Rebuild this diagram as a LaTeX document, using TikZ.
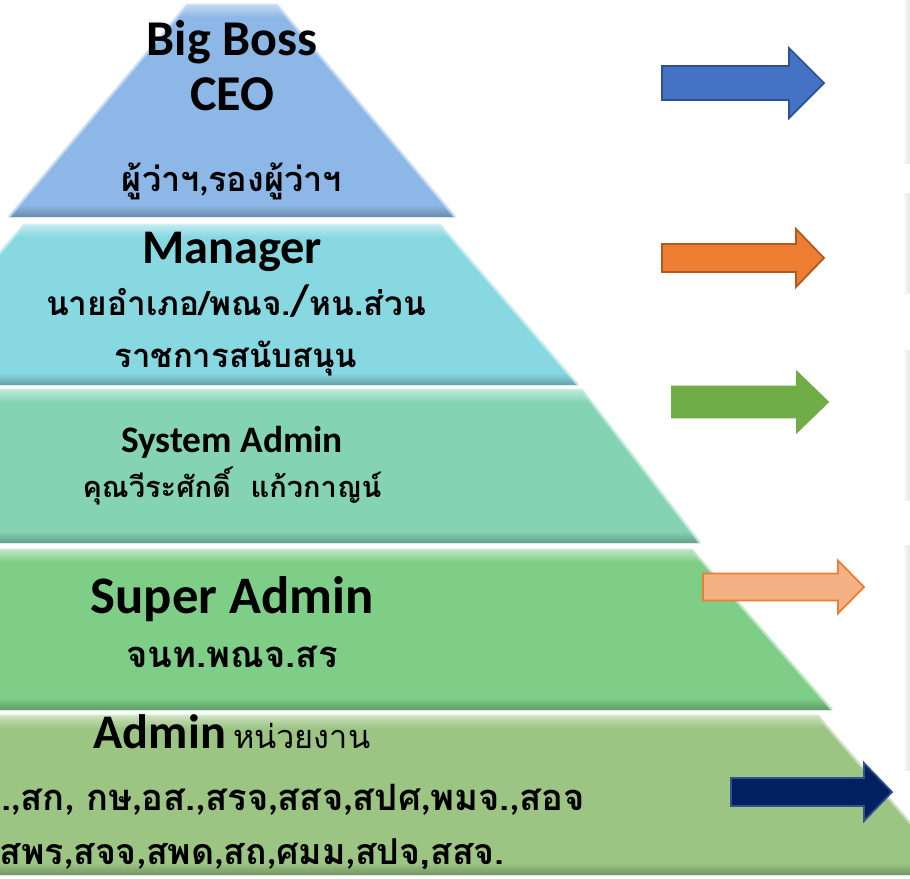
\documentclass[tikz,border=0pt]{standalone}
\usepackage{fontspec}
\setmainfont{Carlito}
\newfontfamily\thaifont[Script=Thai]{Loma}
\usetikzlibrary{calc}

\definecolor{tierA}{HTML}{8DB7E6}
\definecolor{tierB}{HTML}{88D8E2}
\definecolor{tierC}{HTML}{84D4B4}
\definecolor{tierD}{HTML}{7ECE88}
\definecolor{tierE}{HTML}{9CC584}

\newcommand{\boldcomma}{{\normalfont\bfseries ,}}
\newcommand{\fsz}[1]{\fontsize{#1}{#1}\selectfont}

\tikzset{
  title/.style={anchor=base, font=\bfseries\fsz{#1}},
  thai/.style={anchor=base, font=\thaifont\bfseries\fsz{#1}},
  blockarrow/.style={line width=1pt, line join=miter}
}

\begin{document}
\begin{tikzpicture}[x=0.02cm, y=-0.02cm]
    % page
    \fill[white] (0,0) rectangle (910,879);
    \useasboundingbox (0,0) rectangle (910,879);

    % faint edge of the next slide
    \foreach \ya/\yb in {0/163, 193/293, 350/500, 545/770}
      \shade[left color=white, right color=black!10] (902,\ya) rectangle (910,\yb);

    % pyramid tiers: top y / top right x / bottom y / bottom right x / colour
    \foreach \yt/\xt/\yb/\xb/\c in {5/277/217/455/tierA, 225/440/385/578/tierB,
        390/582/543/700/tierC, 550/692/710/832/tierD, 716/818/875/955/tierE} {
      \fill[\c] ({464-\xt},\yt) -- (\xt,\yt) -- (\xb,\yb) -- ({464-\xb},\yb) -- cycle;
      % bevel, light at the top and dark at the bottom
      \shade[top color=\c!55!white, bottom color=\c]
        ({464-\xt},\yt) -- (\xt,\yt)
        -- ({\xt+(\xb-\xt)*12/(\yb-\yt)},{\yt+12})
        -- ({464-\xt-(\xb-\xt)*12/(\yb-\yt)},{\yt+12}) -- cycle;
      \shade[top color=\c, bottom color=\c!75!black]
        ({464-\xb+(\xb-\xt)*12/(\yb-\yt)},{\yb-12})
        -- ({\xb-(\xb-\xt)*12/(\yb-\yt)},{\yb-12})
        -- (\xb,\yb) -- ({464-\xb},\yb) -- cycle;
      \draw[\c!50!white, line width=1.5pt, opacity=.8]
        ({464-\xb},\yb) -- ({464-\xt},\yt) -- (\xt,\yt) -- (\xb,\yb);
    }

    % Big Boss
    \node[title=28.5] (boss) at (232,55) {Big Boss};
    \node[title=28.5] (ceo) at (232,110) {CEO};
    \node[thai=19.5] (govr) at (232,191) {ผู้ว่าฯ\boldcomma รองผู้ว่าฯ};

    % Manager
    \node[title=27.5] (mgr) at (232,263) {Manager};
    \node[thai=19] (mgrsub) at (236,315)
      {นายอำเภอ/พณจ.{\normalfont\bfseries\fsz{25}/}หน.ส่วน};
    \node[thai=18.7] (mgrsup) at (236,367) {ราชการสนับสนุน};

    % System Admin
    \node[title=21.3] (sysadm) at (232,452) {System Admin};
    \node[thai=16.5] (sysname) at (232,497) {คุณวีระศักดิ์\ \ แก้วกาญน์};

    % Super Admin
    \node[title=30] (supadm) at (232,613) {Super Admin};
    \node[thai=20.7] (supname) at (232,667) {จนท.พณจ.สร};

    % Admin
    \node[anchor=base, inner sep=0pt] (adm) at (232,748)
      {{\bfseries\fsz{27.5}Admin}\hspace{4pt}{\thaifont\fsz{18.5}หน่วยงาน}};
    \node[thai=20.7, anchor=base east, inner sep=0pt] (admunits) at (585,810)
      {.\boldcomma สก\boldcomma{} กษ\boldcomma อส.\boldcomma สรจ\boldcomma สสจ\boldcomma สปศ\boldcomma พมจ.\boldcomma สอจ};
    \node[thai=20.3, anchor=base east, inner sep=0pt] (admunits2) at (505,864)
      {สพร\boldcomma สจจ\boldcomma สพด\boldcomma สถ\boldcomma ศมม\boldcomma สปจ,สสจ.};

    % arrows: tail x / head x / tip x / mid y / shaft half / head half / fill / line
    \foreach \xa/\xh/\xt/\ym/\sh/\hh/\fc/\lc in {
        662/789/824/83/17/35/4472C4/2F528F,
        662/796/824/258/14/29/ED7D31/AE5A21,
        672/797/828/402/15.5/30/70AD47/70AD47,
        703/838/864/587/13.5/26.5/F4B183/ED7D31,
        731/864/892/792/14/29/002060/2F528F} {
      \definecolor{arrfill}{HTML}{\fc}
      \definecolor{arrline}{HTML}{\lc}
      \draw[blockarrow, fill=arrfill, draw=arrline]
        (\xa,{\ym-\sh}) -- (\xh,{\ym-\sh}) -- (\xh,{\ym-\hh}) -- (\xt,\ym)
        -- (\xh,{\ym+\hh}) -- (\xh,{\ym+\sh}) -- (\xa,{\ym+\sh}) -- cycle;
    }
\end{tikzpicture}
\end{document}
